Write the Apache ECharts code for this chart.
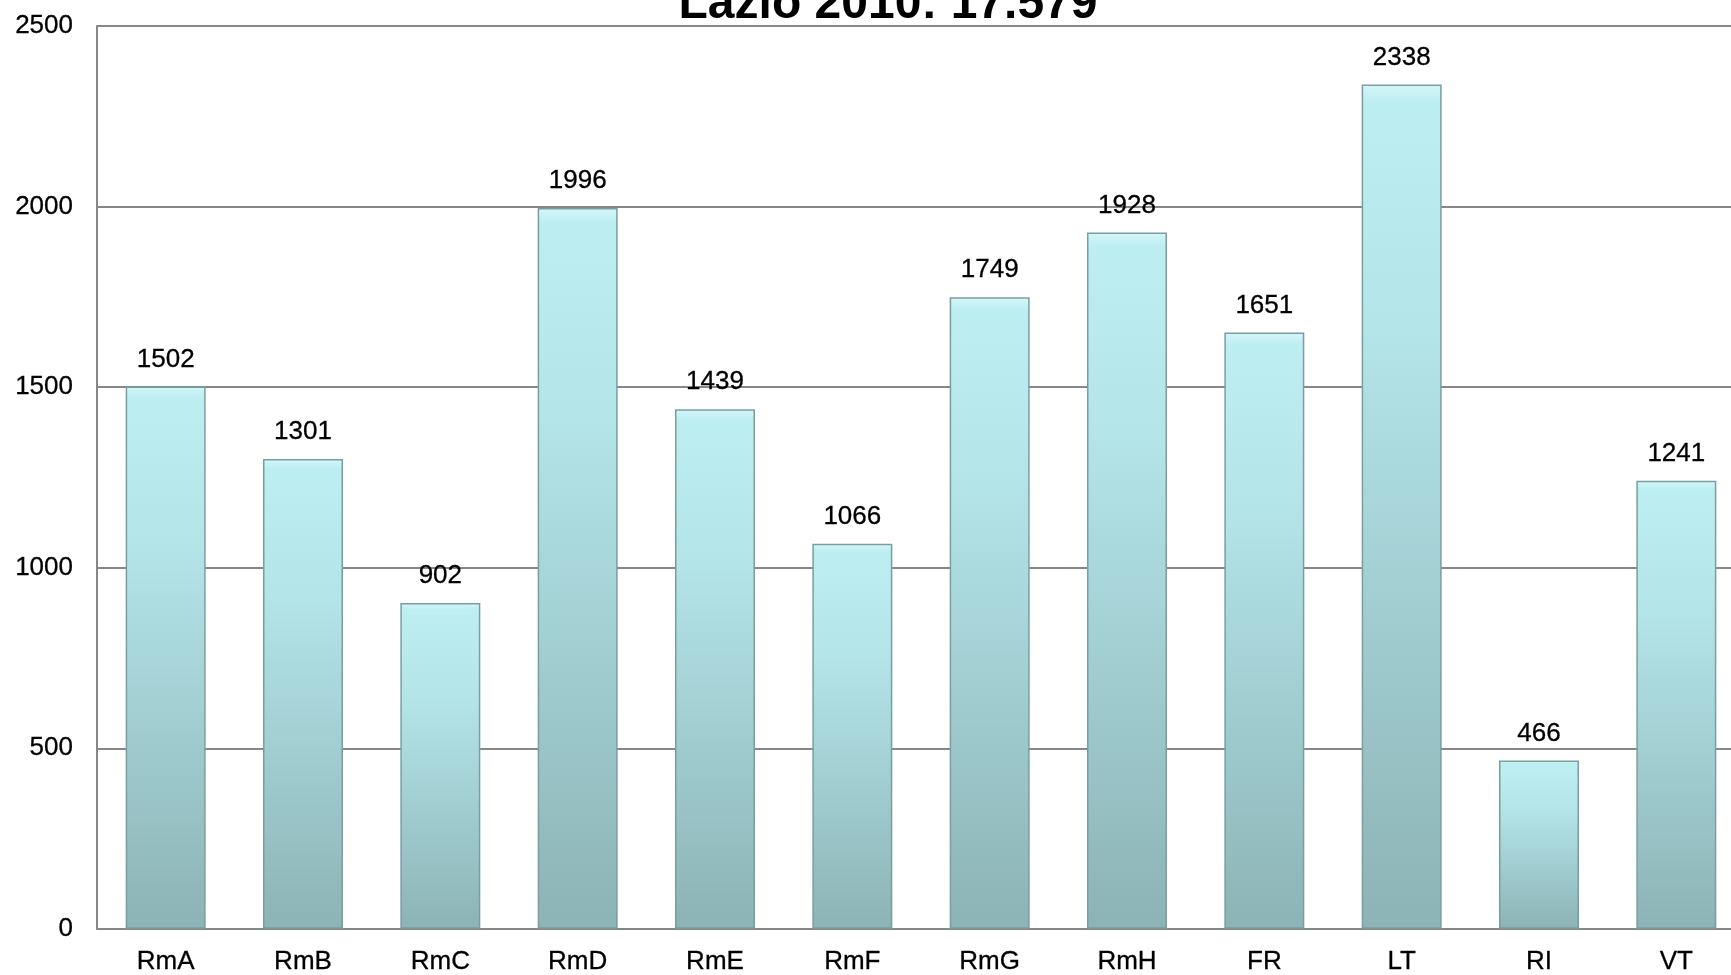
<!DOCTYPE html>
<html>
<head>
<meta charset="utf-8">
<script src="https://cdn.jsdelivr.net/npm/echarts@6/dist/echarts.min.js"></script>
<style>
html, body { margin: 0; padding: 0; background: #fff; overflow: hidden; }
#chart { width: 1760px; height: 975px; }
</style>
</head>
<body>
<div id="chart"></div>
<script>
// the plot runs past the right edge of the window, so the div is wider than the page
var chart = echarts.init(document.getElementById('chart'));

var titleText = 'Lazio 2010: 17.579';
var categories = ['RmA', 'RmB', 'RmC', 'RmD', 'RmE', 'RmF', 'RmG', 'RmH', 'FR', 'LT', 'RI', 'VT'];
var values = [1502, 1301, 902, 1996, 1439, 1066, 1749, 1928, 1651, 2338, 466, 1241];
var yTicks = [0, 500, 1000, 1500, 2000, 2500];

var fontName = 'Liberation Sans, Arial, sans-serif';

var option = {
	backgroundColor : '#fff',
	animation : false,
	title : {
		text : titleText,
		left : 883,
		textAlign : 'center',
		top : -24,
		textStyle : {
			fontFamily : fontName,
			fontWeight : 'bold',
			fontSize : 48,
			color : '#000'
		}
	},
	grid : {
		left : 97,
		top : 26,
		bottom : 46,
		right : 15
	},
	xAxis : {
		type : 'category',
		data : categories,
		axisLine : {
			lineStyle : { color : '#878787', width : 2 }
		},
		axisTick : { show : false },
		axisLabel : {
			fontFamily : fontName,
			fontSize : 26,
			color : '#000',
			margin : 20,
			textBorderColor : '#000',
			textBorderWidth : 0.3
		}
	},
	yAxis : {
		type : 'value',
		min : yTicks[0],
		max : yTicks[yTicks.length - 1],
		interval : 500,
		axisLine : {
			show : true,
			lineStyle : { color : '#878787', width : 2 }
		},
		axisTick : { show : false },
		splitLine : {
			lineStyle : { color : '#878787', width : 2 }
		},
		axisLabel : {
			formatter : function(v) {
				return String(v);
			},
			fontFamily : fontName,
			fontSize : 26,
			color : '#000',
			margin : 24,
			textBorderColor : '#000',
			textBorderWidth : 0.3
		}
	},
	series : [ {
		type : 'bar',
		data : values,
		barWidth : 80,
		itemStyle : {
			color : new echarts.graphic.LinearGradient(0, 0, 0, 1, [
				{ offset : 0, color : '#d6f6f8' },
				{ offset : 0.02, color : '#bdeef2' },
				{ offset : 0.3, color : '#b3e4e8' },
				{ offset : 1, color : '#8cb3b5' }
			]),
			borderColor : '#7a9ea0',
			borderWidth : 1.5
		},
		label : {
			show : true,
			position : 'top',
			distance : 14,
			fontFamily : fontName,
			fontSize : 26,
			color : '#000',
			textBorderColor : '#000',
			textBorderWidth : 0.3
		}
	} ]
};

chart.setOption(option);
</script>
</body>
</html>
